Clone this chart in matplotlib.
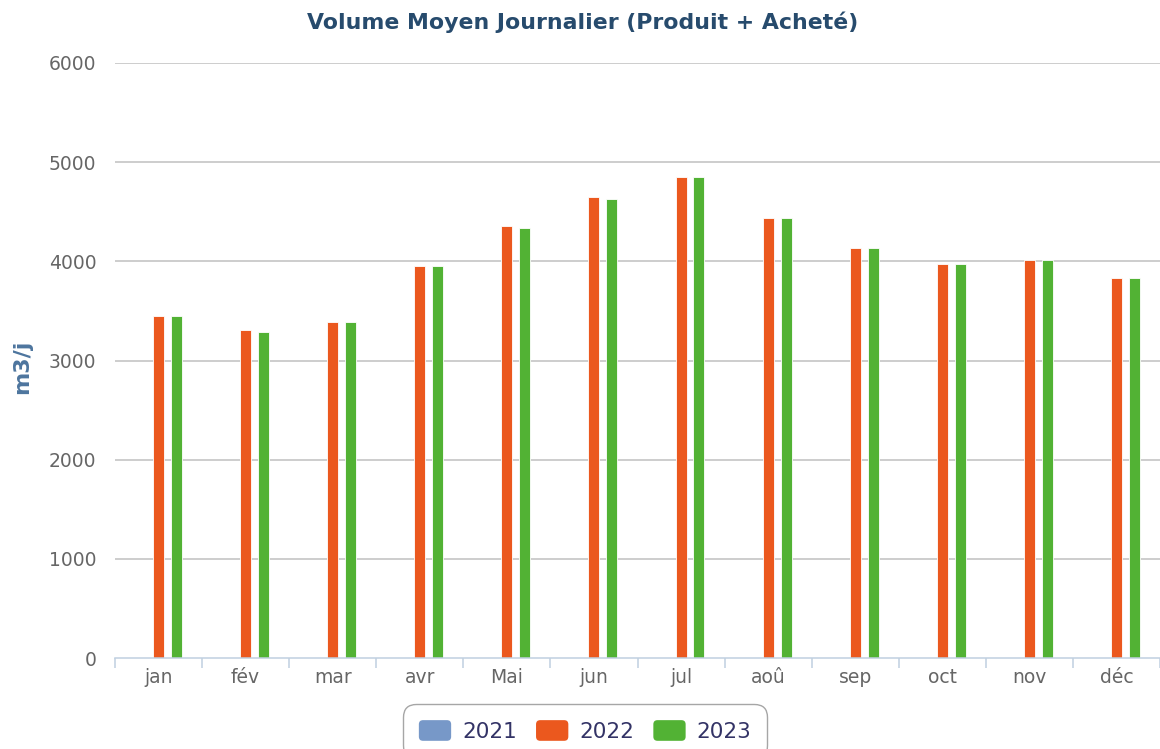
import matplotlib

matplotlib.use("Agg")
import matplotlib.pyplot as plt
import numpy as np
from matplotlib.legend_handler import HandlerPatch
from matplotlib.patches import FancyBboxPatch, Patch

# données (m3/j)
MONTHS = ["jan", "fév", "mar", "avr", "Mai", "jun", "jul", "aoû", "sep", "oct", "nov", "déc"]
V2021 = [0, 0, 0, 0, 0, 0, 0, 0, 0, 0, 0, 0]
V2022 = [3450, 3305, 3385, 3955, 4355, 4645, 4850, 4435, 4130, 3970, 4010, 3830]
V2023 = [3450, 3285, 3385, 3955, 4335, 4625, 4850, 4435, 4130, 3970, 4010, 3830]
YEARS = ["2021", "2022", "2023"]

COLORS = ["#7798C8", "#EB581E", "#52B234"]
TITLE_C, AXTITLE_C, LABEL_C = "#274B6D", "#4D759E", "#666666"
GRID_C, AXIS_C = "#C0C0C0", "#C0D0E0"


class RoundHandler(HandlerPatch):
    def create_artists(self, legend, orig, xd, yd, w, h, fs, trans):
        p = FancyBboxPatch((-xd, -yd), w, h, boxstyle="round,pad=0,rounding_size=3",
                           facecolor=orig.get_facecolor(), edgecolor="none", transform=trans)
        return [p]


fig = plt.figure(figsize=(11.6, 7.49), dpi=100)
ax = fig.add_axes([115 / 1160, 1 - 658 / 749, 1 - 115 / 1160, (658 - 63) / 749])

x = np.arange(len(MONTHS))
width, step = 0.126, 0.206
for i, (vals, col) in enumerate(zip([V2021, V2022, V2023], COLORS)):
    ax.bar(x + (i - 1) * step, vals, width, color=col, edgecolor="white", linewidth=0.6, zorder=3)

ax.set_xlim(-0.5, -0.5 + (1160 - 115) / 87.4)
ax.set_ylim(0, 6000)
ax.set_yticks(range(0, 7000, 1000))
ax.set_xticks(x)
ax.set_xticklabels(MONTHS)
ax.set_xticks(np.arange(-0.5, 12, 1), minor=True)

for y in range(1000, 7000, 1000):
    ax.axhline(y, color=GRID_C, lw=1.1, zorder=1)

for s in ["top", "right", "left"]:
    ax.spines[s].set_visible(False)
ax.spines["bottom"].set_color(AXIS_C)
ax.spines["bottom"].set_linewidth(1.1)
ax.spines["bottom"].set_zorder(4)

ax.tick_params(axis="y", length=0, pad=13.5, labelsize=13.5, labelcolor=LABEL_C)
ax.tick_params(axis="x", which="major", length=0, pad=7, labelsize=13.5, labelcolor=LABEL_C)
ax.tick_params(axis="x", which="minor", length=7, width=1.1, color=AXIS_C)

ax.set_ylabel("m3/j", fontsize=16, fontweight="bold", color=AXTITLE_C)
ax.yaxis.set_label_coords(-(115 - 32) / 1045, 0.49)

fig.text(583 / 1160, 1 - 22 / 749, "Volume Moyen Journalier (Produit + Acheté)", ha="center", va="center",
         fontsize=15.8, fontweight="bold", color=TITLE_C)

handles = [Patch(facecolor=c, label=y) for c, y in zip(COLORS, YEARS)]
leg = fig.legend(handles=handles, loc="upper center", bbox_to_anchor=(585 / 1160, 1 - 704 / 749), ncol=3,
                 fontsize=15.5, frameon=True, fancybox=True, handlelength=1.5, handleheight=1.1,
                 handletextpad=0.5, columnspacing=0.9, borderpad=0.75, borderaxespad=0,
                 handler_map={Patch: RoundHandler()})
for t in leg.get_texts():
    t.set_color("#333366")
leg.get_frame().set_edgecolor("#909090")
leg.get_frame().set_linewidth(1.0)
leg.get_frame().set_boxstyle("round,pad=0,rounding_size=0.6")

fig.savefig("out.png", dpi=100)
